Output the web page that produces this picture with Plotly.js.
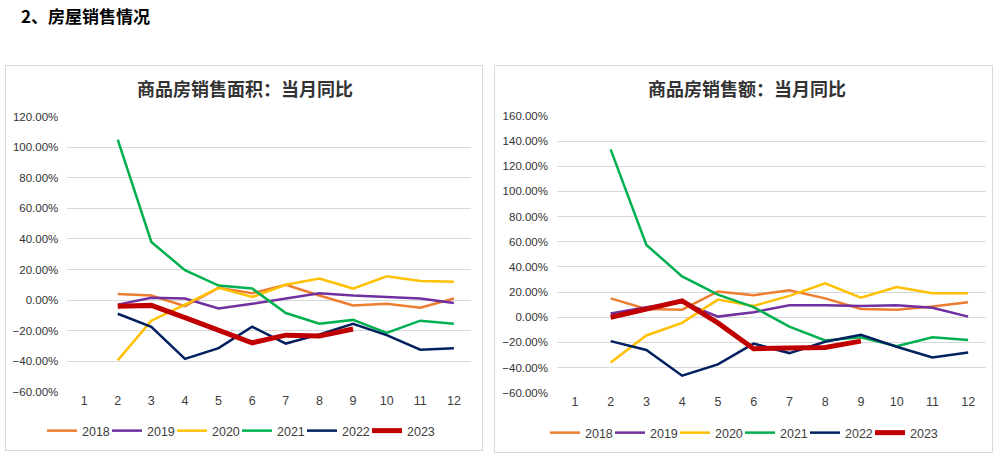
<!DOCTYPE html>
<html>
<head>
<meta charset="utf-8">
<script src="https://cdn.plot.ly/plotly-3.0.1.min.js"></script>
<style>
html,body{margin:0;padding:0;background:#fff;}
#chart{width:1002px;height:464px;}
</style>
</head>
<body>
<div id="chart"></div>
<script>
// ---- data ----
const months = [1, 2, 3, 4, 5, 6, 7, 8, 9, 10, 11, 12];
const years = ['2018', '2019', '2020', '2021', '2022', '2023'];

// 商品房销售面积：当月同比 (%)
const area2018 = [null, 4, 3, -4, 8, 4.5, 10, 3, -3.5, -2.5, -5, 1];
const area2019 = [null, -3, 1.5, 1, -5.5, -2.5, 1, 4.5, 3, 2, 1, -2];
const area2020 = [null, -39.5, -13.5, -3, 8, 2, 10, 14, 7.5, 15.5, 12.5, 12];
const area2021 = [null, 105, 38, 19.5, 9.5, 7.5, -8.5, -15.5, -13, -21.5, -13.5, -15.5];
const area2022 = [null, -9, -17.5, -38.5, -31.5, -17.5, -28.5, -22.5, -15.5, -23, -32.5, -31.5];
const area2023 = [null, -4, -3.5, -11.5, -19.5, -28, -23, -23.5, -19];

// 商品房销售额：当月同比 (%)
const amt2018 = [null, 15, 6.5, 6, 20.5, 17.5, 21.5, 15, 6.5, 6, 8.5, 12];
const amt2019 = [null, 3, 8, 12, 0.5, 4, 9.5, 9.5, 9, 9.5, 7.5, 0.5];
const amt2020 = [null, -36, -14.5, -4.5, 14, 9, 17, 27, 15.5, 24, 19, 19];
const amt2021 = [null, 133.5, 57.5, 32.5, 18, 8, -7.5, -18.5, -16, -23, -16, -18];
const amt2022 = [null, -19, -26, -46.5, -37.5, -21, -28.5, -19.5, -14, -23.5, -32, -28];
const amt2023 = [null, 0, 6, 13, -4.5, -25, -24.5, -24, -19];

const leftTitle = '商品房销售面积：当月同比';
const rightTitle = '商品房销售额：当月同比';
const headerText = '2、房屋销售情况';

// ---- styles ----
const colors = ['#ED7D31', '#7030A0', '#FFC000', '#00B050', '#002060', '#C00000'];
const widths = [2.5, 2.5, 2.5, 2.5, 2.5, 5];
const W = 1002, H = 464;
const px = x => x / W;
const py = y => 1 - y / H;

const areaSeries = [area2018, area2019, area2020, area2021, area2022, area2023];
const amtSeries = [amt2018, amt2019, amt2020, amt2021, amt2022, amt2023];

const traces = [];
function addTraces(series, xa, ya, lg) {
  series.forEach((s, i) => {
    const t = {
      x: months, y: s, type: 'scatter', mode: 'lines', name: years[i],
      xaxis: xa, yaxis: ya, legend: lg,
      line: {color: colors[i], width: widths[i]}, connectgaps: false,
      hoverinfo: 'skip'
    };
    if (i === series.length - 1) t.legendwidth = 34;
    traces.push(t);
  });
}
addTraces(areaSeries, 'x', 'y', 'legend');
addTraces(amtSeries, 'x2', 'y2', 'legend2');

const tickFont = {family: 'Liberation Sans, Arial, sans-serif', size: 11.5, color: '#333333'};
const xTickFont = {family: 'Liberation Sans, Arial, sans-serif', size: 12.5, color: '#404040'};

function xAxis(domain, anchor) {
  return {
    domain: domain, anchor: anchor, range: [0.5, 12.5],
    tickmode: 'array', tickvals: months, ticktext: months.map(String),
    showgrid: false, zeroline: false, showline: false, ticks: '',
    tickfont: xTickFont, fixedrange: true
  };
}
function yAxis(domain, anchor, range) {
  return {
    domain: domain, anchor: anchor, range: range, dtick: 20, tick0: 0,
    tickformat: '.2f', ticksuffix: '%',
    showgrid: true, gridcolor: '#D9D9D9', gridwidth: 1,
    zeroline: false, showline: false, ticks: '',
    ticklabelstandoff: 8,
    tickfont: tickFont, fixedrange: true
  };
}

const legendCommon = {
  orientation: 'h', font: {family: 'Liberation Sans, Arial, sans-serif', size: 12.5, color: '#404040'},
  bgcolor: 'rgba(0,0,0,0)', xanchor: 'left', yanchor: 'middle',
  entrywidth: 20, entrywidthmode: 'pixels', tracegroupgap: 0, itemclick: false, itemdoubleclick: false
};

const layout = {
  width: W, height: H,
  margin: {l: 0, r: 0, t: 0, b: 0},
  paper_bgcolor: '#FFFFFF', plot_bgcolor: 'rgba(0,0,0,0)',
  showlegend: true,
  xaxis: xAxis([px(67.3), px(470.7)], 'y'),
  yaxis: yAxis([py(391.7), py(116.7)], 'x', [-60, 120]),
  xaxis2: xAxis([px(557), px(986)], 'y2'),
  yaxis2: yAxis([py(392.7), py(116)], 'x2', [-60, 160]),
  legend: Object.assign({}, legendCommon, {x: px(42), y: py(431)}),
  legend2: Object.assign({}, legendCommon, {x: px(545), y: py(433)}),
  shapes: [
    {type: 'rect', xref: 'paper', yref: 'paper', x0: px(5.5), x1: px(482.5), y0: py(450.5), y1: py(65.5),
     line: {color: '#D9D9D9', width: 1}, fillcolor: 'rgba(0,0,0,0)', layer: 'below'},
    {type: 'rect', xref: 'paper', yref: 'paper', x0: px(494.5), x1: px(992.5), y0: py(452.5), y1: py(65.5),
     line: {color: '#D9D9D9', width: 1}, fillcolor: 'rgba(0,0,0,0)', layer: 'below'}
  ],
  annotations: [
    {text: headerText, xref: 'paper', yref: 'paper', x: px(19), y: py(16), xanchor: 'left', yanchor: 'middle',
     showarrow: false, font: {family: 'Noto Sans CJK SC, sans-serif', size: 17, color: '#000000', weight: 700}},
    {text: leftTitle, xref: 'paper', yref: 'paper', x: px(245), y: py(88), xanchor: 'center', yanchor: 'middle',
     showarrow: false, font: {family: 'Noto Sans CJK SC, sans-serif', size: 18, color: '#333333', weight: 700}},
    {text: rightTitle, xref: 'paper', yref: 'paper', x: px(747), y: py(88), xanchor: 'center', yanchor: 'middle',
     showarrow: false, font: {family: 'Noto Sans CJK SC, sans-serif', size: 18, color: '#333333', weight: 700}}
  ]
};

Plotly.newPlot('chart', traces, layout, {displayModeBar: false, staticPlot: true});
</script>
</body>
</html>
